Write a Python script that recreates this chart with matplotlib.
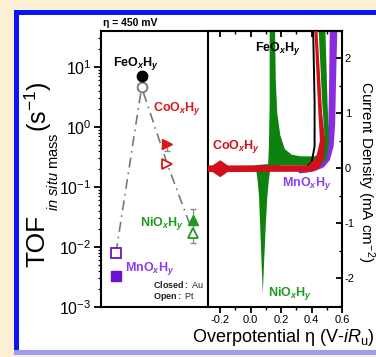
import numpy as np
import matplotlib
matplotlib.use('Agg')
import matplotlib.pyplot as plt
from matplotlib.patches import Rectangle
from matplotlib.ticker import MultipleLocator, FormatStrFormatter

plt.rcParams['font.family'] = ['Liberation Sans', 'DejaVu Sans']
plt.rcParams['mathtext.fontset'] = 'custom'
plt.rcParams['mathtext.rm'] = 'Liberation Sans'
plt.rcParams['mathtext.it'] = 'Liberation Sans:italic'
plt.rcParams['mathtext.bf'] = 'Liberation Sans:bold'
plt.rcParams['mathtext.bfit'] = 'Liberation Sans:italic:bold'
plt.rcParams['axes.unicode_minus'] = False

# --- left panel: TOF at eta = 450 mV ---
materials = ['Mn', 'Fe', 'Co', 'Ni']
positions = [1, 2, 3, 4]
tof_au = [0.0033, 7.0, 0.52, 0.028]      # closed symbols
tof_pt = [0.0079, 4.6, 0.24, 0.017]      # open symbols
err_pt_lo = [0.0, 0.4, 0.0, 0.0053]
err_pt_hi = [0.0, 0.6, 0.0, 0.026]
err_au_lo = [0.0, 0.0, 0.12, 0.0]
err_au_hi = [0.0, 0.0, 0.0, 0.0]
markers = ['s', 'o', '>', '^']
mark_colors = ['#6a10d8', '#000000', '#d7191c', '#1f9a1f']
label_colors = ['#8a3cf0', '#000000', '#d7191c', '#1f9a1f']

# --- right panel: CV bands (outline points) ---
co_x = [-0.28, -0.25, -0.20, -0.15, 0.38, 0.43, 0.455, 0.445, 0.417,
        0.437, 0.47, 0.49, 0.48, 0.45, 0.40, -0.15, -0.20, -0.25, -0.28]
co_y = [0.055, 0.055, 0.15, 0.055, 0.06, 0.2, 0.5, 1.0, 2.6,
        2.6, 1.0, 0.5, 0.2, 0.0, -0.06, -0.065, -0.16, -0.065, -0.065]

ni_x = [0.03, 0.115, 0.12, 0.125, 0.125, 0.16, 0.165, 0.175, 0.195, 0.225,
        0.27, 0.33, 0.42, 0.47, 0.485, 0.47, 0.445, 0.49, 0.505, 0.515,
        0.50, 0.47, 0.42, 0.20, 0.13, 0.12, 0.11, 0.10, 0.09, 0.08, 0.07,
        0.062, 0.055, 0.045, 0.035]
ni_y = [0.06, 0.08, 0.4, 1.2, 2.6, 2.6, 1.6, 1.0, 0.6, 0.35,
        0.25, 0.22, 0.22, 0.3, 0.6, 1.2, 2.6, 2.6, 1.2, 0.5,
        0.2, 0.08, 0.06, 0.06, 0.0, -0.2, -0.5, -1.0, -1.6, -2.27, -1.6,
        -1.0, -0.5, -0.2, 0.0]

mn_x = [0.30, 0.40, 0.46, 0.50, 0.51, 0.515, 0.52,
        0.57, 0.56, 0.555, 0.545, 0.52, 0.48, 0.42, 0.36, 0.32]
mn_y = [-0.02, 0.04, 0.15, 0.4, 0.8, 1.5, 2.6,
        2.6, 1.5, 0.8, 0.4, 0.15, 0.02, -0.05, -0.08, -0.09]

fe_x = [0.36, 0.40, 0.42, 0.42, 0.41]
fe_y = [0.02, 0.1, 0.4, 1.2, 2.6]

W, H = 376, 357
def fx(px):
    return px / W
def fy(py):
    return 1 - py / H

def formula(el):
    return r'$\mathbf{%sO}_{\mathbfit{x}}\mathbf{H}_{\mathbfit{y}}$' % el

fig = plt.figure(figsize=(W / 100, H / 100), dpi=100)
fig.patch.set_facecolor('#fcefd4')
fig.add_artist(Rectangle((fx(14), fy(353)), 1, fy(10) - fy(353), transform=fig.transFigure,
                         facecolor='#0a14f5', edgecolor='none', zorder=-10))
fig.add_artist(Rectangle((fx(14), fy(355)), 1, fy(350) - fy(355), transform=fig.transFigure,
                         facecolor='#9c9cf5', edgecolor='none', zorder=-9))
fig.add_artist(Rectangle((fx(19), fy(350)), 1, fy(15) - fy(350), transform=fig.transFigure,
                         facecolor='white', edgecolor='none', zorder=-8))

top, bot = 31, 307
ax = fig.add_axes([fx(101), fy(bot), (208 - 101) / W, (bot - top) / H])
ax2 = fig.add_axes([fx(208), fy(bot), (342 - 208) / W, (bot - top) / H])

# left panel
ax.plot(positions, tof_pt, color='#6e7e76', lw=1.2, dashes=(6, 3, 1, 3), zorder=1)
for i in range(len(materials)):
    ax.errorbar(positions[i], tof_pt[i], yerr=[[err_pt_lo[i]], [err_pt_hi[i]]],
                fmt='none', ecolor='#8a8a8a', elinewidth=0.9, capsize=2, zorder=2)
    ax.errorbar(positions[i], tof_au[i], yerr=[[err_au_lo[i]], [err_au_hi[i]]],
                fmt='none', ecolor='#8a8a8a', elinewidth=0.9, capsize=2, zorder=2)
    ax.plot(positions[i], tof_pt[i], marker=markers[i], ms=7, mfc='white',
            mec=mark_colors[i] if i != 1 else '#777777', mew=1.3, ls='none', zorder=3)
    ax.plot(positions[i], tof_au[i], marker=markers[i], ms=7.5, color=mark_colors[i],
            ls='none', zorder=4)

ax.set_yscale('log')
ax.set_ylim(1e-3, 10 ** 1.6)
ax.set_xlim(0.42, 4.58)
ax.set_xticks([])
ax.set_yticks([1e-3, 1e-2, 1e-1, 1, 10])
ax.tick_params(axis='y', which='major', direction='out', length=5, width=1.3, labelsize=11.5, pad=2)
ax.tick_params(axis='y', which='minor', direction='out', length=2.5, width=0.9)
ax.spines['right'].set_visible(False)
for s in ['left', 'top', 'bottom']:
    ax.spines[s].set_linewidth(1.5)

ax.text(0.112, 0.884, formula('Fe'), transform=ax.transAxes, color=label_colors[1],
        fontsize=9, va='center', ha='left')
ax.text(0.486, 0.718, formula('Co'), transform=ax.transAxes, color=label_colors[2],
        fontsize=9, va='center', ha='left')
ax.text(0.364, 0.303, formula('Ni'), transform=ax.transAxes, color=label_colors[3],
        fontsize=9, va='center', ha='left')
ax.text(0.224, 0.141, formula('Mn'), transform=ax.transAxes, color=label_colors[0],
        fontsize=9, va='center', ha='left')
ax.text(0.486, 0.083, r'$\mathbf{Closed:}$ Au', transform=ax.transAxes, fontsize=6.5,
        va='center', ha='left', color='#222222')
ax.text(0.486, 0.036, r'$\mathbf{Open:}$ Pt', transform=ax.transAxes, fontsize=6.5,
        va='center', ha='left', color='#222222')

fig.text(fx(103), fy(23), 'η = 450 mV', fontsize=7.5, fontweight='bold', ha='left', va='center')
fig.text(fx(37), fy(241), 'TOF', fontsize=19, rotation=90, ha='center', va='center')
fig.text(fx(53), fy(172), r'$\mathit{in\ situ}$ mass', fontsize=10.5, rotation=90,
         ha='center', va='center')
fig.text(fx(38), fy(107), r'(s$^{-1}$)', fontsize=18, rotation=90, ha='center', va='center')

# right panel
ax2.fill(mn_x, mn_y, color='#8a2be2', lw=0, zorder=1)
ax2.fill(ni_x, ni_y, color='#0e820e', lw=0, zorder=2)
ax2.plot(fe_x, fe_y, color='black', lw=1.4, zorder=3)
ax2.fill(co_x, co_y, color='#d0101a', lw=0, zorder=4)

ax2.set_xlim(-0.28, 0.60)
ax2.set_ylim(-2.52, 2.5)
ax2.xaxis.set_major_locator(MultipleLocator(0.2))
ax2.xaxis.set_minor_locator(MultipleLocator(0.1))
ax2.xaxis.set_major_formatter(FormatStrFormatter('%.1f'))
ax2.yaxis.set_major_locator(MultipleLocator(1))
ax2.yaxis.set_minor_locator(MultipleLocator(0.5))
ax2.yaxis.tick_right()
ax2.yaxis.set_label_position('right')
ax2.tick_params(axis='x', which='major', direction='out', length=4, width=1.3, labelsize=8, pad=2)
ax2.tick_params(axis='x', which='minor', direction='out', length=2.5, width=1.0)
ax2.tick_params(axis='y', which='major', direction='in', length=4, width=1.3, labelsize=8, pad=2)
ax2.tick_params(axis='y', which='minor', direction='in', length=2.5, width=1.0)
secx = ax2.secondary_xaxis('top')
secx.xaxis.set_major_locator(MultipleLocator(0.2))
secx.xaxis.set_minor_locator(MultipleLocator(0.1))
secx.tick_params(axis='x', which='major', direction='in', length=4, width=1.3, labeltop=False)
secx.tick_params(axis='x', which='minor', direction='in', length=2.5, width=1.0)
secx.spines['top'].set_linewidth(1.5)
for s in ['left', 'right', 'top', 'bottom']:
    ax2.spines[s].set_linewidth(1.5)

ax2.text(0.35, 0.938, formula('Fe'), transform=ax2.transAxes, color='black',
         fontsize=9, va='center', ha='left')
ax2.text(0.03, 0.583, formula('Co'), transform=ax2.transAxes, color='#d0101a',
         fontsize=9, va='center', ha='left')
ax2.text(0.552, 0.449, formula('Mn'), transform=ax2.transAxes, color='#8a3cf0',
         fontsize=9, va='center', ha='left')
ax2.text(0.448, 0.05, formula('Ni'), transform=ax2.transAxes, color='#1f9a1f',
         fontsize=9, va='center', ha='left')

fig.text(fx(283), fy(337), r'Overpotential η (V-$\mathit{iR}_\mathrm{u}$)', fontsize=13,
         ha='center', va='center')
fig.text(fx(365.5), fy(172), r'Current Density (mA cm$^{-2}$)', fontsize=11, rotation=270,
         ha='center', va='center')

fig.savefig('out.png', dpi=100, facecolor=fig.get_facecolor())
